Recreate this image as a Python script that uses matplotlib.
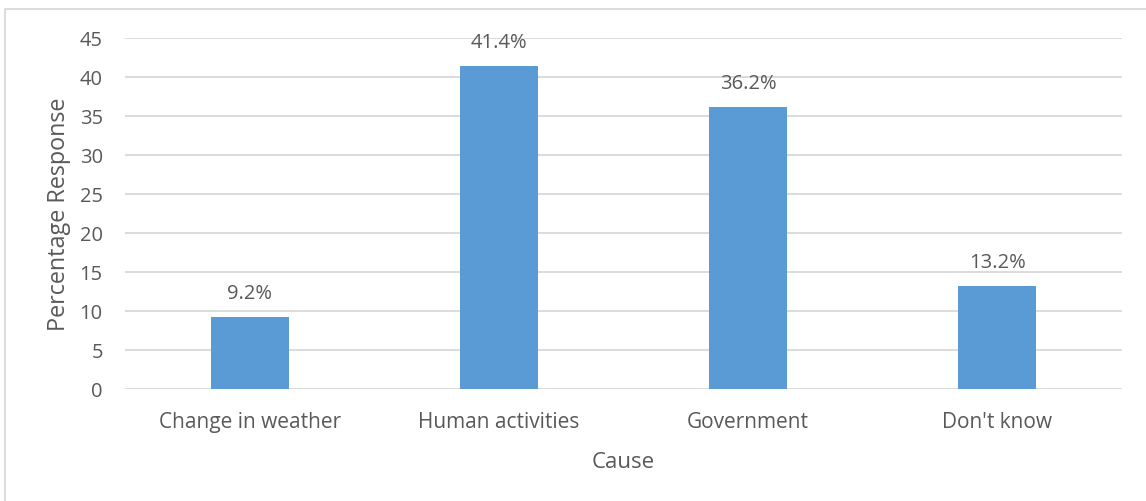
import matplotlib
matplotlib.use('Agg')
import matplotlib.pyplot as plt
from matplotlib.lines import Line2D

# Survey responses by cause
causes = ['Change in weather', 'Human activities', 'Government', "Don't know"]
responses = [9.2, 41.4, 36.2, 13.2]
y_ticks = [0, 5, 10, 15, 20, 25, 30, 35, 40, 45]

plt.rcParams['font.family'] = ['Open Sans', 'DejaVu Sans']
text_color = '#595959'

fig = plt.figure(figsize=(11.46, 5.02), dpi=100)
ax = fig.add_axes([125 / 1146, 1 - 390 / 502, (1122 - 125) / 1146, (390 - 39) / 502])

x = range(len(causes))
bars = ax.bar(x, responses, width=0.313, color='#5B9BD5', zorder=3)

for b, v in zip(bars, responses):
    ax.annotate(f'{v}%', (b.get_x() + b.get_width() / 2, v), xytext=(0, 14),
                textcoords='offset pixels', ha='center', va='bottom',
                fontsize=14.5, color=text_color)

ax.set_xlim(-0.5, len(causes) - 0.5)
ax.set_ylim(0, 45)
ax.set_yticks(y_ticks)
ax.set_xticks(list(x))
ax.set_xticklabels(causes)
ax.tick_params(axis='both', length=0, labelsize=14.5, colors=text_color)
ax.tick_params(axis='x', labelsize=15, pad=15.5)
ax.tick_params(axis='y', pad=16)
ax.yaxis.grid(True, color='#D9D9D9', linewidth=1.3, zorder=0)
for s in ax.spines.values():
    s.set_visible(False)

ax.set_xlabel('Cause', fontsize=16, color=text_color, labelpad=14)
ax.set_ylabel('Percentage Response', fontsize=16.8, color=text_color, labelpad=6)

# outer chart border (top and left edges visible)
fig.add_artist(Line2D([4.5 / 1146, 4.5 / 1146, 1], [0, 1 - 9.5 / 502, 1 - 9.5 / 502],
                      transform=fig.transFigure, color='#D9D9D9', linewidth=1.3))

fig.savefig('out.png', dpi=100)
